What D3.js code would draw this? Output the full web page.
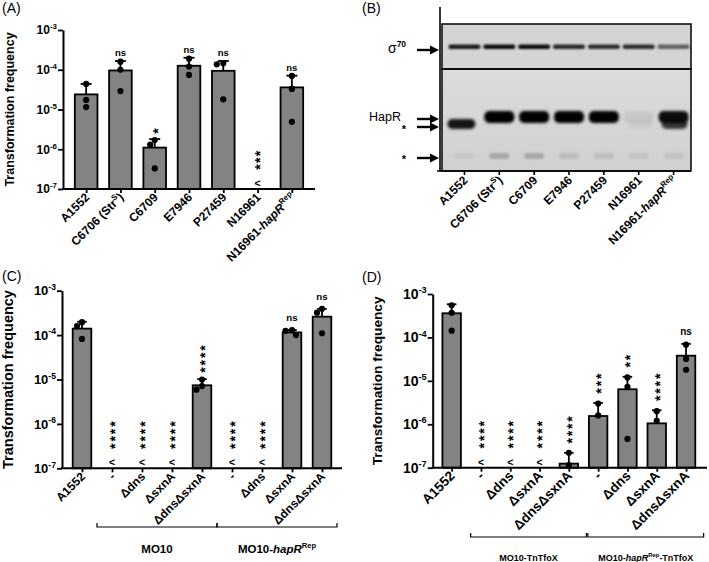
<!DOCTYPE html>
<html><head><meta charset="utf-8">
<script src="https://cdn.jsdelivr.net/npm/d3@7"></script>
<style>body{margin:0;background:#fff}svg{display:block}</style>
</head><body>
<svg id="chart" width="709" height="562"></svg>
<script>
const FONT = "'Liberation Sans', Arial, Helvetica, sans-serif";

// ---------------- Panel A data ----------------
const strainsA = ["A1552", "C6706 (Str<sup>S</sup>)", "C6709", "E7946", "P27459", "N16961", "N16961-<i>hapR</i><sup>Rep</sup>"];
const meanA  = [2.4e-5, 9.6e-5, 1.1e-6, 1.26e-4, 9.4e-5, null, 3.6e-5];
const upperA = [4.4e-5, 1.66e-4, 1.8e-6, 2.0e-4, 1.66e-4, null, 7.1e-5];
const pointsA = [[4.4e-5, 1.74e-5, 1.15e-5], [1.6e-4, 1.0e-4, 2.9e-5], [1.7e-6, 1.3e-6, 3.3e-7],
                 [1.9e-4, 1.2e-4, 7.4e-5], [1.45e-4, 1.37e-4, 1.8e-5], [], [7.0e-5, 3.3e-5, 4.9e-6]];
const sigA   = ["", "ns", "*", "ns", "ns", "***", "ns"];
const belowA = [false, false, false, false, false, true, false];

// ---------------- Panel B (western blot) data ----------------
const lanesB    = strainsA;
const sigma70B  = [0.88, 0.95, 0.95, 0.82, 0.8, 0.8, 0.55];
const hapRB     = [0.0, 1.0, 1.0, 1.0, 1.0, 0.07, 0.95];
const starBandB = [0.9, 0.0, 0.0, 0.0, 0.0, 0.04, 0.75];
const lowBandB  = [0.05, 0.2, 0.2, 0.1, 0.09, 0.07, 0.08];

// ---------------- Panel C data ----------------
const mutantsC = ["A1552", "-", "\u0394dns", "\u0394sxnA", "\u0394dns\u0394sxnA", "-", "\u0394dns", "\u0394sxnA", "\u0394dns\u0394sxnA"];
const meanC  = [1.4e-4, null, null, null, 7.4e-6, null, null, 1.15e-4, 2.6e-4];
const upperC = [2.0e-4, null, null, null, 1.02e-5, null, null, 1.3e-4, 3.9e-4];
const pointsC = [[1.95e-4, 1.6e-4, 8.2e-5], [], [], [], [1.0e-5, 7.1e-6, 5.9e-6], [], [],
                 [1.3e-4, 1.25e-4, 1.0e-4], [3.9e-4, 3.2e-4, 1.1e-4]];
const sigC   = ["", "****", "****", "****", "****", "****", "****", "ns", "ns"];
const belowC = [false, true, true, true, false, true, true, false, false];
const groupsC = [{label: "MO10", from: 1, to: 4}, {label: "MO10-<i>hapR</i><sup>Rep</sup>", from: 5, to: 8}];

// ---------------- Panel D data ----------------
const mutantsD = mutantsC;
const meanD  = [3.6e-4, null, null, null, 1.24e-7, 1.55e-6, 6.4e-6, 1.05e-6, 3.8e-5];
const upperD = [5.8e-4, null, null, null, 2.2e-7, 3.1e-6, 1.24e-5, 2.1e-6, 7.1e-5];
const pointsD = [[5.5e-4, 3.7e-4, 1.43e-4], [], [], [], [2.2e-7, 1.15e-7], [3.0e-6, 1.6e-6],
                 [1.2e-5, 7.3e-6, 4.6e-7], [2.0e-6, 1.2e-6], [6.8e-5, 3.2e-5, 1.8e-5]];
const sigD   = ["", "****", "****", "****", "****", "***", "**", "****", "ns"];
const belowD = [false, true, true, true, false, false, false, false, false];
const groupsD = [{label: "MO10-TnTfoX", from: 1, to: 4}, {label: "MO10-<i>hapR</i><sup>Rep</sup>-TnTfoX", from: 5, to: 8}];

// ---------------- shared ----------------
const yTicks = [1e-7, 1e-6, 1e-5, 1e-4, 1e-3];
const yTickLabels = ["10<sup>-7</sup>", "10<sup>-6</sup>", "10<sup>-5</sup>", "10<sup>-4</sup>", "10<sup>-3</sup>"];
const yTitle = "Transformation frequency";
const panelLabels = ["(A)", "(B)", "(C)", "(D)"];

const svg = d3.select("#chart").attr("font-family", FONT);

function rich(text, str, fs) {
  const parts = str.split(/(<\/?i>|<\/?sup>)/).filter(s => s.length);
  let it = false, sup = false, shifted = 0;
  parts.forEach(p => {
    if (p === "<i>") { it = true; return; }
    if (p === "</i>") { it = false; return; }
    if (p === "<sup>") { sup = true; return; }
    if (p === "</sup>") { sup = false; return; }
    const ts = text.append("tspan").text(p);
    if (it) ts.attr("font-style", "italic");
    const target = sup ? -fs * 0.42 : 0;
    if (target !== shifted) { ts.attr("dy", target - shifted); shifted = target; }
    if (sup) ts.attr("font-size", fs * 0.66);
  });
}

function swarm(vals, y, r) {
  const placed = [];
  return vals.map(v => {
    const py = y(v);
    let off = 0;
    for (let k = 0; k <= 40; k++) {
      const cands = k === 0 ? [0] : [-k * 0.5, k * 0.5];
      let found = null;
      for (const c of cands) {
        if (placed.every(p => (p.x - c) ** 2 + (p.y - py) ** 2 >= (2 * r) ** 2)) { found = c; break; }
      }
      if (found !== null) { off = found; break; }
    }
    placed.push({x: off, y: py});
    return off;
  });
}

// vertical stack of asterisks as one rotated text; bottom star centred at (cx, by)
function starStack(g, cx, by, s, fs, step) {
  const adv = 0.389 * fs;
  g.append("text").attr("font-weight", "bold").attr("font-size", fs)
    .attr("letter-spacing", step - adv)
    .attr("transform", `translate(${cx + 0.56 * fs},${by + adv / 2}) rotate(-90)`)
    .text(s);
}

function barPanel(cfg) {
  const g = svg.append("g");
  const idx = d3.range(cfg.cats.length);
  const x = d3.scalePoint().domain(idx).range(cfg.xRange).padding(0.5);
  const y = d3.scaleLog().domain([1e-7, 1e-3]).range(cfg.yRange);
  const bw = x.step() * cfg.barFrac;
  const y0 = y(1e-7);

  g.selectAll("rect.bar").data(idx.filter(i => cfg.mean[i] != null)).join("rect")
    .attr("x", i => x(i) - bw / 2).attr("width", bw)
    .attr("y", i => y(cfg.mean[i])).attr("height", i => y0 - y(cfg.mean[i]))
    .attr("fill", "#838383").attr("stroke", "#000").attr("stroke-width", 1.8);

  const eb = idx.filter(i => cfg.upper[i] != null);
  g.selectAll("line.ev").data(eb).join("line")
    .attr("x1", i => x(i)).attr("x2", i => x(i))
    .attr("y1", i => y(cfg.mean[i])).attr("y2", i => y(cfg.upper[i]))
    .attr("stroke", "#000").attr("stroke-width", 1.8);
  g.selectAll("line.ec").data(eb).join("line")
    .attr("x1", i => x(i) - cfg.cap / 2).attr("x2", i => x(i) + cfg.cap / 2)
    .attr("y1", i => y(cfg.upper[i])).attr("y2", i => y(cfg.upper[i]))
    .attr("stroke", "#000").attr("stroke-width", 1.8);

  const r = 3.1;
  idx.forEach(i => {
    const offs = swarm(cfg.points[i], y, r);
    g.selectAll(null).data(cfg.points[i]).join("circle")
      .attr("cx", (d, k) => x(i) + offs[k]).attr("cy", d => y(d)).attr("r", r).attr("fill", "#000");
  });

  const ya = g.append("g").attr("transform", `translate(${cfg.axisX},0)`)
    .call(d3.axisLeft(y).tickValues(yTicks).tickSize(5).tickSizeOuter(0).tickFormat(""));
  ya.select(".domain").attr("stroke-width", 2);
  ya.selectAll(".tick line").attr("stroke-width", 1.8);
  yTicks.forEach((t, k) => {
    const tx = g.append("text").attr("x", cfg.axisX - 6).attr("y", y(t) + cfg.tickFs * 0.36)
      .attr("text-anchor", "end").attr("font-weight", "bold").attr("font-size", cfg.tickFs);
    rich(tx, yTickLabels[k], cfg.tickFs);
  });

  const xa = g.append("g").attr("transform", `translate(0,${y0})`)
    .call(d3.axisBottom(x).tickSize(4).tickSizeOuter(0).tickFormat(""));
  xa.select(".domain").remove();
  xa.selectAll(".tick line").attr("stroke-width", 1.8);
  g.append("line").attr("x1", cfg.axisX - 1).attr("x2", cfg.xEnd).attr("y1", y0).attr("y2", y0)
    .attr("stroke", "#000").attr("stroke-width", 2);

  idx.forEach(i => {
    const t = g.append("text").attr("text-anchor", "end").attr("font-weight", "bold")
      .attr("font-size", cfg.labFs)
      .attr("transform", `translate(${x(i) + cfg.labDx},${y0 + cfg.labDy}) rotate(-45)`);
    rich(t, cfg.cats[i], cfg.labFs);
  });

  g.append("text").attr("text-anchor", "middle").attr("font-weight", "bold").attr("font-size", cfg.titleFs)
    .attr("transform", `translate(${cfg.titleX},${(cfg.yRange[0] + cfg.yRange[1]) / 2}) rotate(-90)`)
    .text(yTitle);

  idx.forEach(i => {
    const s = cfg.sig[i];
    if (!s) return;
    if (s === "ns") {
      g.append("text").attr("x", x(i)).attr("y", y(cfg.upper[i]) - cfg.nsGap)
        .attr("text-anchor", "middle").attr("font-weight", "bold").attr("font-size", cfg.nsFs).text("ns");
      return;
    }
    let base;
    if (cfg.below[i]) {
      const ly = y0 - 6;
      g.append("text").attr("x", x(i)).attr("y", ly + 4).attr("text-anchor", "middle")
        .attr("font-weight", "bold").attr("font-size", 10.5).text("<");
      base = ly - 16;
    } else {
      base = y(cfg.upper[i]) - cfg.starGap;
    }
    starStack(g, x(i), base, s, cfg.starFs, cfg.starStep);
  });

  (cfg.groups || []).forEach(gr => {
    const x1 = x(gr.from) - x.step() * cfg.brL, x2 = x(gr.to) + x.step() * cfg.brR;
    g.append("path").attr("d", `M${x1},${cfg.brY - 4}V${cfg.brY}H${x2}V${cfg.brY - 4}`)
      .attr("fill", "none").attr("stroke", "#000").attr("stroke-width", 1.2);
    const t = g.append("text").attr("x", (x1 + x2) / 2).attr("y", cfg.brTextY).attr("text-anchor", "middle")
      .attr("font-weight", "bold").attr("font-size", cfg.brFs);
    rich(t, gr.label, cfg.brFs);
  });
  return g;
}

// Panel A
barPanel({cats: strainsA, mean: meanA, upper: upperA, points: pointsA, sig: sigA, below: belowA,
  xRange: [69, 309], yRange: [189, 30], axisX: 63, xEnd: 315, barFrac: 0.66, cap: 11,
  tickFs: 12, labFs: 12, labDx: 4, labDy: 9, titleFs: 12.5, titleX: 13.5,
  starFs: 14, starStep: 6.7, starGap: 8, nsFs: 9.5, nsGap: 5});

// Panel C
barPanel({cats: mutantsC, mean: meanC, upper: upperC, points: pointsC, sig: sigC, below: belowC, groups: groupsC,
  xRange: [67, 337], yRange: [468.3, 290.7], axisX: 62, xEnd: 342, barFrac: 0.62, cap: 9.5,
  tickFs: 13, labFs: 12, labDx: 4, labDy: 9, titleFs: 14.5, titleX: 13,
  starFs: 14, starStep: 7.4, starGap: 9, nsFs: 9.7, nsGap: 9,
  brY: 527, brL: 0.5, brR: 0.5, brTextY: 553, brFs: 11.5});

// Panel D
barPanel({cats: mutantsD, mean: meanD, upper: upperD, points: pointsD, sig: sigD, below: belowD, groups: groupsD,
  xRange: [437, 700.7], yRange: [467.7, 294], axisX: 432.7, xEnd: 707, barFrac: 0.63, cap: 9.5,
  tickFs: 14, labFs: 13.5, labDx: 4, labDy: 9, titleFs: 13.7, titleX: 382,
  starFs: 14, starStep: 7.3, starGap: 12, nsFs: 10, nsGap: 9,
  brY: 537, brL: 0.35, brR: 0.6, brTextY: 561, brFs: 9});

// ---------------- Panel B: blot ----------------
(function () {
  const g = svg.append("g");
  const defs = svg.append("defs");
  [["b1", 0.9], ["b2", 1.6], ["b3", 1.3]].forEach(([id, s]) => {
    defs.append("filter").attr("id", id).attr("x", "-50%").attr("y", "-100%").attr("width", "200%").attr("height", "300%")
      .append("feGaussianBlur").attr("stdDeviation", s);
  });
  const grad = defs.append("linearGradient").attr("id", "lowbg").attr("x1", 0).attr("x2", 0).attr("y1", 0).attr("y2", 1);
  grad.append("stop").attr("offset", "0").attr("stop-color", "#dcdcdc");
  grad.append("stop").attr("offset", "1").attr("stop-color", "#d0d0d0");

  const L = 442, R = 691, T = 24, M = 69, B = 171;
  const x = d3.scaleBand().domain(d3.range(lanesB.length)).range([447, 691]);
  const cx = i => x(i) + x.bandwidth() / 2;
  const band = d3.scaleLinear().domain([0, 1]).range([117, 124]); // 0 = HapR, 1 = lower (*) band

  g.append("rect").attr("x", L).attr("y", T).attr("width", R - L).attr("height", M - T).attr("fill", "#d4d4d4");
  g.append("rect").attr("x", L).attr("y", M).attr("width", R - L).attr("height", B - M).attr("fill", "url(#lowbg)");

  g.selectAll(null).data(sigma70B).join("rect")
    .attr("x", (d, i) => cx(i) - 16).attr("y", 44.5).attr("width", 32).attr("height", 4.5).attr("rx", 2)
    .attr("fill", "#000").attr("fill-opacity", d => d).attr("filter", "url(#b1)");
  g.selectAll(null).data(hapRB).join("rect")
    .attr("x", (d, i) => cx(i) - 15).attr("y", band(0) - 6).attr("width", 30).attr("height", 12).attr("rx", 5)
    .attr("fill", "#000").attr("fill-opacity", d => d).attr("filter", "url(#b2)");
  g.selectAll(null).data(starBandB).join("rect")
    .attr("x", (d, i) => cx(i) - (i === 0 ? 17 : 12)).attr("y", band(1) - 5).attr("width", (d, i) => i === 0 ? 28 : 26).attr("height", 10).attr("rx", 5)
    .attr("fill", "#000").attr("fill-opacity", d => d).attr("filter", "url(#b2)");
  g.selectAll(null).data(lowBandB).join("rect")
    .attr("x", (d, i) => cx(i) - 10).attr("y", 153).attr("width", 20).attr("height", 6).attr("rx", 3)
    .attr("fill", "#000").attr("fill-opacity", d => d).attr("filter", "url(#b3)");

  g.append("rect").attr("x", L).attr("y", T).attr("width", R - L).attr("height", M - T)
    .attr("fill", "none").attr("stroke", "#000").attr("stroke-width", 1.5);
  g.append("rect").attr("x", L).attr("y", M).attr("width", R - L).attr("height", B - M)
    .attr("fill", "none").attr("stroke", "#000").attr("stroke-width", 1.5);

  g.append("line").attr("x1", 440).attr("x2", 440).attr("y1", 7).attr("y2", B).attr("stroke", "#000").attr("stroke-width", 1.6);
  g.append("line").attr("x1", 437).attr("x2", R).attr("y1", B).attr("y2", B).attr("stroke", "#000").attr("stroke-width", 1.5);
  g.selectAll(null).data(lanesB).join("line")
    .attr("x1", (d, i) => cx(i)).attr("x2", (d, i) => cx(i)).attr("y1", B).attr("y2", B + 4)
    .attr("stroke", "#000").attr("stroke-width", 1.6);
  lanesB.forEach((s, i) => {
    const t = g.append("text").attr("text-anchor", "end").attr("font-weight", "bold").attr("font-size", 12)
      .attr("transform", `translate(${cx(i) + 4},${B + 10}) rotate(-45)`);
    rich(t, s, 12);
  });

  const arrow = yy => {
    g.append("line").attr("x1", 417).attr("x2", 432).attr("y1", yy).attr("y2", yy).attr("stroke", "#000").attr("stroke-width", 2.4);
    g.append("path").attr("d", `M430,${yy - 4.5}L439,${yy}L430,${yy + 4.5}Z`).attr("fill", "#000");
  };
  [50, 119, 127, 158].forEach(arrow);
  const s = g.append("text").attr("x", 388).attr("y", 53).attr("font-size", 14);
  s.append("tspan").text("\u03c3");
  s.append("tspan").attr("dy", -6).attr("font-size", 8.5).attr("font-weight", "bold").text("70");
  g.append("text").attr("x", 369).attr("y", 121).attr("font-size", 12.5).text("HapR");
  g.append("text").attr("x", 404).attr("y", 133).attr("text-anchor", "middle").attr("font-size", 11).attr("font-weight", "bold").text("*");
  g.append("text").attr("x", 404).attr("y", 163).attr("text-anchor", "middle").attr("font-size", 11).attr("font-weight", "bold").text("*");
})();

[[2, 13], [362, 13], [2, 281], [362, 282]].forEach(([px, py], k) => {
  svg.append("text").attr("x", px).attr("y", py).attr("font-size", 14).text(panelLabels[k]);
});
</script>
</body></html>
